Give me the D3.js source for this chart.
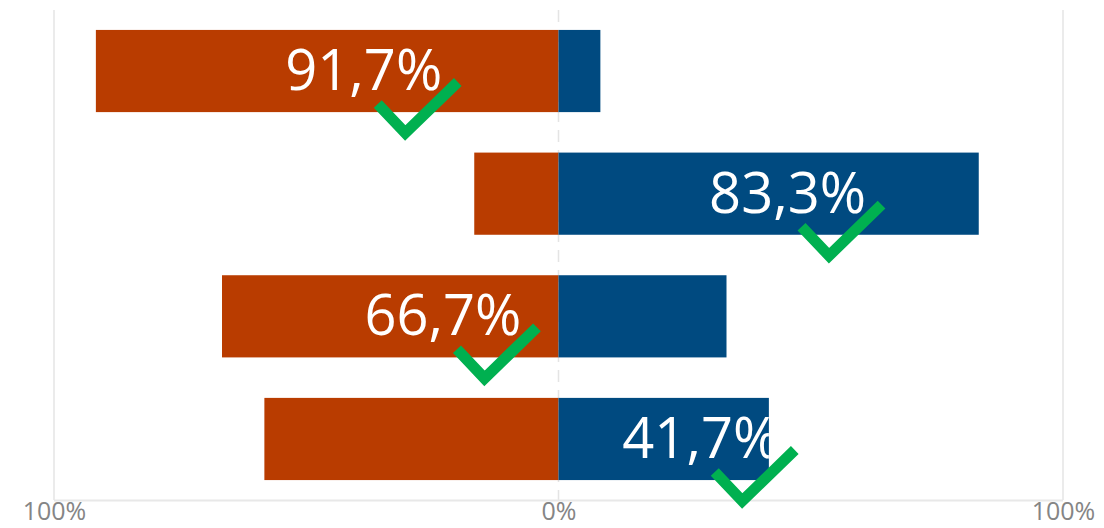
<!DOCTYPE html>
<html>
<head>
<meta charset="utf-8">
<script src="https://cdn.jsdelivr.net/npm/d3@7"></script>
<style>
  body { margin: 0; background: #fff; }
  .tick text { font-family: "Open Sans", sans-serif; fill: #858585; }
</style>
</head>
<body>
<div id="chart"></div>
<script>
// data
var questions = ["Q1", "Q2", "Q3", "Q4"];
var leftShare  = [91.7, 16.7, 66.7, 58.3];   // red, drawn to the left
var rightShare = [8.3, 83.3, 33.3, 41.7];    // blue, drawn to the right
var labelText  = ["91,7%", "83,3%", "66,7%", "41,7%"];
var labelAt    = [-38.6, 45.4, -22.9, 28.2]; // label centre on the % axis
var tickValues = [-100, 0, 100];

var width = 1104, height = 528;
var red = "#b93c00", blue = "#004a80", green = "#00b050";

var svg = d3.select("#chart").append("svg")
  .attr("width", width)
  .attr("height", height);

var xScale = d3.scaleLinear()
  .domain([-100, 100])
  .range([54, 1063]);

var yScale = d3.scaleBand()
  .domain(questions)
  .range([10, 500])
  .paddingInner(0.33)
  .paddingOuter(0.1625);

// grid
svg.append("line")
  .attr("x1", xScale(-100)).attr("x2", xScale(-100))
  .attr("y1", 10).attr("y2", 500)
  .attr("stroke", "#ebebeb").attr("stroke-width", 2);
svg.append("line")
  .attr("x1", xScale(100)).attr("x2", xScale(100))
  .attr("y1", 10).attr("y2", 500)
  .attr("stroke", "#ebebeb").attr("stroke-width", 2);
svg.append("line")
  .attr("x1", xScale(0)).attr("x2", xScale(0))
  .attr("y1", 10).attr("y2", 500)
  .attr("stroke", "#e4e4e4").attr("stroke-width", 1.5)
  .attr("stroke-dasharray", "12,8");
svg.append("line")
  .attr("x1", xScale(-100)).attr("x2", xScale(100))
  .attr("y1", 500.5).attr("y2", 500.5)
  .attr("stroke", "#e8e8e8").attr("stroke-width", 2);

// axis labels
var xAxis = svg.append("g")
  .attr("transform", "translate(0," + 500 + ")")
  .call(d3.axisBottom(xScale)
    .tickValues(tickValues)
    .tickSize(0)
    .tickPadding(4)
    .tickFormat(function(d) { return Math.abs(d) + "%"; }));
xAxis.select(".domain").remove();
xAxis.selectAll("text").attr("font-size", 25).attr("dy", "16px");

var rows = questions.map(function(q, i) {
  return { q: q, left: leftShare[i], right: rightShare[i], label: labelText[i], at: labelAt[i] };
});

var defs = svg.append("defs");

// bars
var bars = svg.append("g");
bars.selectAll(".left").data(rows).enter().append("rect")
  .attr("class", "left")
  .attr("x", function(d) { return xScale(-d.left); })
  .attr("y", function(d) { return yScale(d.q); })
  .attr("width", function(d) { return xScale(0) - xScale(-d.left); })
  .attr("height", yScale.bandwidth())
  .attr("fill", red);
bars.selectAll(".right").data(rows).enter().append("rect")
  .attr("class", "right")
  .attr("x", xScale(0))
  .attr("y", function(d) { return yScale(d.q); })
  .attr("width", function(d) { return xScale(d.right) - xScale(0); })
  .attr("height", yScale.bandwidth())
  .attr("fill", blue);

// clip each label to the bar it sits in
rows.forEach(function(d, i) {
  var x0 = d.at < 0 ? xScale(-d.left) : xScale(0);
  var x1 = d.at < 0 ? xScale(0) : xScale(d.right);
  defs.append("clipPath").attr("id", "clip" + i)
    .append("rect")
    .attr("x", x0).attr("y", yScale(d.q))
    .attr("width", x1 - x0).attr("height", yScale.bandwidth());
});

svg.append("g").selectAll("text").data(rows).enter().append("text")
  .attr("clip-path", function(d, i) { return "url(#clip" + i + ")"; })
  .attr("x", function(d) { return xScale(d.at); })
  .attr("y", function(d) { return yScale(d.q) + yScale.bandwidth() / 2 + 19; })
  .attr("text-anchor", "middle")
  .attr("font-family", "'Open Sans', sans-serif")
  .attr("font-size", 56)
  .attr("fill", "#fff")
  .text(function(d) { return d.label; });

// check marks
svg.append("g").selectAll("path").data(rows).enter().append("path")
  .attr("d", function(d) {
    var cx = xScale(d.at), b = yScale(d.q) + yScale.bandwidth() / 2 + 19;
    return "M" + (cx + 14) + "," + (b + 14) +
           "L" + (cx + 41.5) + "," + (b + 43) +
           "L" + (cx + 94) + "," + (b - 8);
  })
  .attr("fill", "none")
  .attr("stroke", green)
  .attr("stroke-width", 11)
  .attr("stroke-linejoin", "miter");
</script>
</body>
</html>
